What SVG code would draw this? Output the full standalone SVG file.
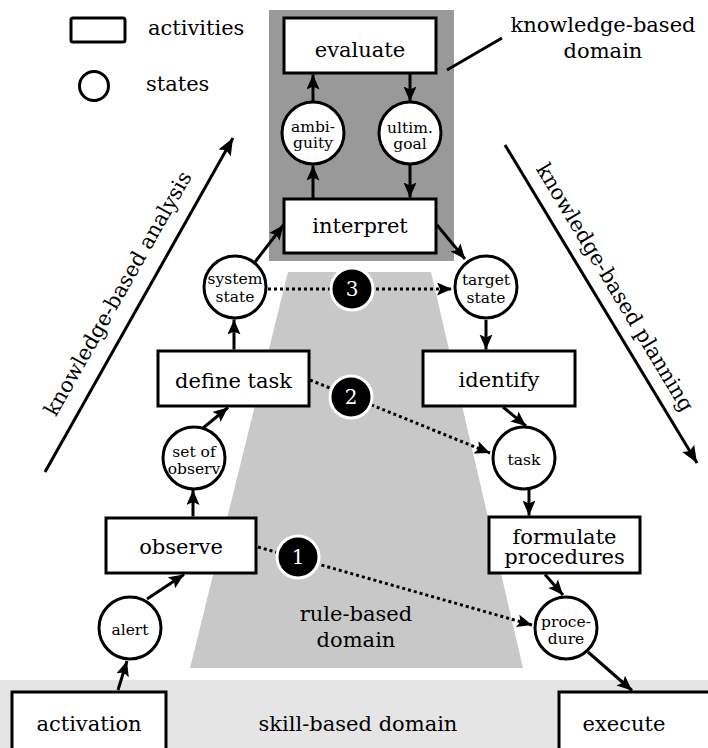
<svg xmlns="http://www.w3.org/2000/svg" width="708" height="748" viewBox="0 0 708 748" font-family="'DejaVu Serif', serif">
<defs>
<marker id="ah" markerUnits="userSpaceOnUse" markerWidth="16" markerHeight="14" refX="15" refY="6.5" orient="auto">
<path d="M0,0 L15,6.5 L0,13 L3,6.5 z" fill="#000"/>
</marker>
<marker id="big" markerUnits="userSpaceOnUse" markerWidth="18" markerHeight="16" refX="17" refY="7" orient="auto">
<path d="M0,0 L17,7 L0,14 L3,7 z" fill="#000"/>
</marker>
<style>
text{font-family:'DejaVu Serif',serif;fill:#000}
.box{fill:#fff;stroke:#000;stroke-width:3}
.st{fill:#fff;stroke:#000;stroke-width:3}
.bl{font-size:21px;text-anchor:middle}
.sl{font-size:15.5px;text-anchor:middle}
.ar{stroke:#000;stroke-width:3;fill:none;marker-end:url(#ah)}
.dt{stroke:#000;stroke-width:3;fill:none;stroke-dasharray:3 3;marker-end:url(#ah)}
.num{fill:#000;stroke:#fff;stroke-width:3}
.nt{font-size:20px;text-anchor:middle;fill:#fff}
</style>
</defs>
<g id="domains">
<rect x="0" y="680" width="708" height="68" fill="#e5e5e5"/>
<polygon points="288,272 431,272 523,668 190,668" fill="#c8c8c8"/>
<rect x="269" y="10" width="185" height="251" fill="#999"/>
<text class="bl" x="356" y="621">rule-based</text>
<text class="bl" x="356" y="647">domain</text>
<text class="bl" x="358" y="731">skill-based domain</text>
<text class="bl" x="603" y="32">knowledge-based</text>
<text class="bl" x="603" y="58">domain</text>
<line x1="447" y1="70" x2="502" y2="38" stroke="#000" stroke-width="3"/>
</g>
<g id="legend">
<rect x="71" y="18" width="54" height="24" rx="2" class="box"/>
<text x="148" y="35" font-size="21">activities</text>
<circle cx="94" cy="86" r="14.5" class="st"/>
<text x="146" y="91" font-size="21">states</text>
</g>
<g id="axes">
<line x1="45" y1="472" x2="233" y2="138" stroke="#000" stroke-width="3" marker-end="url(#big)"/>
<text class="bl" x="124" y="297" transform="rotate(-60.5 124 297)">knowledge-based analysis</text>
<line x1="505" y1="145" x2="697" y2="463" stroke="#000" stroke-width="3" marker-end="url(#big)"/>
<text class="bl" x="609" y="291" transform="rotate(59 609 291)">knowledge-based planning</text>
</g>
<g id="connectors">
<line class="ar" x1="313" y1="199" x2="313" y2="165.5"/>
<line class="ar" x1="313" y1="102" x2="313" y2="74.5"/>
<line class="ar" x1="410" y1="74" x2="410" y2="101.5"/>
<line class="ar" x1="410" y1="165" x2="410" y2="197.5"/>
<line class="ar" x1="255" y1="262" x2="283.5" y2="225"/>
<line class="ar" x1="437" y1="225" x2="465" y2="259"/>
<line class="ar" x1="486" y1="320" x2="486" y2="349.5"/>
<line class="ar" x1="503" y1="407" x2="526" y2="426"/>
<line class="ar" x1="529" y1="490" x2="529" y2="515.5"/>
<line class="ar" x1="545" y1="574.5" x2="563" y2="595"/>
<line class="ar" x1="588" y1="652" x2="632" y2="690.5"/>
<line class="ar" x1="118" y1="690" x2="127" y2="661"/>
<line class="ar" x1="147" y1="599" x2="184" y2="574.5"/>
<line class="ar" x1="193" y1="516.5" x2="193" y2="490"/>
<line class="ar" x1="203" y1="428" x2="228" y2="407.5"/>
<line class="ar" x1="234" y1="349.5" x2="234" y2="319.5"/>
<line class="dt" x1="268" y1="289" x2="452" y2="289"/>
<line class="dt" x1="310" y1="380" x2="490" y2="453"/>
<line class="dt" x1="258" y1="547" x2="532" y2="625"/>
</g>
<g id="evaluate"><rect class="box" x="284" y="18" width="152" height="55"/><text class="bl" x="360" y="57">evaluate</text></g>
<g id="interpret"><rect class="box" x="284" y="199" width="152" height="54"/><text class="bl" x="360" y="233">interpret</text></g>
<g id="define-task"><rect class="box" x="158" y="351" width="151" height="55"/><text class="bl" x="233.5" y="388">define task</text></g>
<g id="identify"><rect class="box" x="423" y="351" width="152" height="55"/><text class="bl" x="499" y="387">identify</text></g>
<g id="observe"><rect class="box" x="106" y="518" width="150" height="55"/><text class="bl" x="181" y="554">observe</text></g>
<g id="formulate"><rect class="box" x="489" y="517" width="151" height="56"/><text class="bl" x="564.5" y="544">formulate</text><text class="bl" x="564.5" y="564">procedures</text></g>
<g id="activation"><rect class="box" x="12" y="692" width="154" height="70"/><text class="bl" x="89" y="731">activation</text></g>
<g id="execute"><rect class="box" x="559" y="692" width="170" height="70"/><text class="bl" x="624" y="731">execute</text></g>
<g id="ambiguity"><circle class="st" cx="313" cy="133" r="31"/><text class="sl" x="313" y="132">ambi-</text><text class="sl" x="313" y="148">guity</text></g>
<g id="ultim-goal"><circle class="st" cx="410" cy="133" r="31"/><text class="sl" x="410" y="133">ultim.</text><text class="sl" x="410" y="149">goal</text></g>
<g id="system-state"><circle class="st" cx="235" cy="287" r="31"/><text class="sl" x="235" y="284">system</text><text class="sl" x="235" y="302">state</text></g>
<g id="target-state"><circle class="st" cx="486" cy="287" r="31"/><text class="sl" x="486" y="285">target</text><text class="sl" x="486" y="303">state</text></g>
<g id="set-of-observ"><circle class="st" cx="194" cy="458" r="31"/><text class="sl" x="194" y="457">set of</text><text class="sl" x="194" y="474">observ</text></g>
<g id="task"><circle class="st" cx="524" cy="458" r="31"/><text class="sl" x="524" y="465">task</text></g>
<g id="alert"><circle class="st" cx="130" cy="628" r="31"/><text class="sl" x="130" y="635">alert</text></g>
<g id="procedure"><circle class="st" cx="566" cy="628" r="31"/><text class="sl" x="566" y="627">proce-</text><text class="sl" x="566" y="644">dure</text></g>
<g id="m3"><circle class="num" cx="352" cy="289" r="21"/><text class="nt" x="352" y="296">3</text></g>
<g id="m2"><circle class="num" cx="351" cy="397" r="21"/><text class="nt" x="351" y="404">2</text></g>
<g id="m1"><circle class="num" cx="298" cy="557" r="21"/><text class="nt" x="298" y="564">1</text></g>
</svg>
